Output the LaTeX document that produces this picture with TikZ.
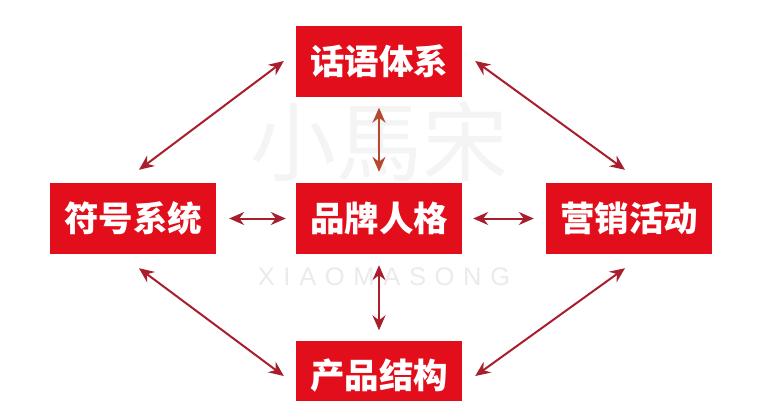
\documentclass[tikz,border=0pt]{standalone}
\usepackage{fontspec}
\newfontfamily\cjkb{Noto Sans CJK SC Black}
\newfontfamily\cjkr{Noto Sans CJK SC}
\newfontfamily\wmfont[LetterSpace=34]{Liberation Sans}
\usetikzlibrary{arrows.meta}
\definecolor{boxred}{HTML}{E20E1B}
\definecolor{arrowred}{HTML}{A81E2C}
\definecolor{arrowbrown}{HTML}{B5482E}
\definecolor{wmgray}{HTML}{F4F4F4}
\definecolor{wmtext}{HTML}{EBEBEB}
\tikzset{
  box/.style={fill=boxred,draw=none,minimum width=166pt,minimum height=71pt,inner sep=0pt,text=white,font=\cjkb\fontsize{34.5}{34.5}\selectfont},
  link/.style={draw=arrowred,line width=2pt,{Stealth[length=15pt,width=13pt,inset=5pt]}-{Stealth[length=15pt,width=13pt,inset=5pt]}}
}
\begin{document}
\begin{tikzpicture}[x=1pt,y=-1pt]
\useasboundingbox (0,0) rectangle (764,400);
\clip (0,0) rectangle (764,400);
\fill[white] (0,0) rectangle (764,400);
\node[text=wmgray,font=\cjkr\fontsize{86}{86}\selectfont] (wm) at (379,142) {小馬宋};
\node[text=wmtext,font=\wmfont\fontsize{25.5}{25.5}\selectfont] (wmlatin) at (384,277) {XIAOMASONG};
\node[box] (top) at (379,61) {话语体系};
\node[box] (center) at (379,218.5) {品牌人格};
\node[box] (left) at (133,218.5) {符号系统};
\node[box] (right) at (629,218.5) {营销活动};
\node[box] (bottom) at (379,376) {产品结构};
\draw[link] ([xshift=-12pt]top.west) -- ([xshift=6pt,yshift=13pt]left.north);
\draw[link] ([xshift=13pt]top.east) -- ([xshift=-4pt,yshift=13pt]right.north);
\draw[link] ([xshift=6pt,yshift=-14pt]left.south) -- ([xshift=-12pt]bottom.west);
\draw[link] ([xshift=-4pt,yshift=-14pt]right.south) -- ([xshift=13pt]bottom.east);
\draw[link,draw=arrowbrown] ([yshift=-11pt]top.south) -- ([yshift=11pt]center.north);
\draw[link] ([yshift=-11pt]center.south) -- ([yshift=10pt]bottom.north);
\draw[link] ([xshift=13pt]left.east) -- ([xshift=-10pt]center.west);
\draw[link] ([xshift=11pt]center.east) -- ([xshift=-12pt]right.west);
\end{tikzpicture}
\end{document}
